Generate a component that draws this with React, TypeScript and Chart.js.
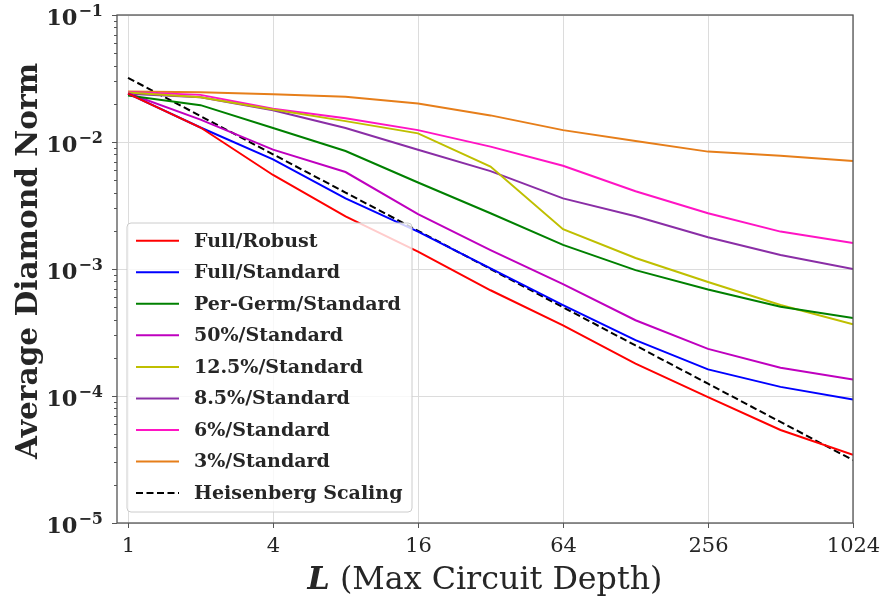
import React, { useEffect, useRef } from 'react';
import { Chart, registerables } from 'chart.js';

Chart.register(...registerables);

// ---------- data ----------
const depths = [1, 2, 4, 8, 16, 32, 64, 128, 256, 512, 1024];

const fullRobust = [0.024, 0.013, 0.0055, 0.0026, 0.00137, 0.00068, 0.00036, 0.00018, 0.000098, 0.000054, 0.0000345];
const fullStandard = [0.024, 0.013, 0.0073, 0.0036, 0.00197, 0.00101, 0.00052, 0.000275, 0.000162, 0.000118, 0.0000937];
const perGermStandard = [0.0232, 0.0195, 0.0129, 0.0085, 0.0048, 0.00275, 0.00155, 0.00098, 0.00069, 0.000504, 0.000412];
const pct50Standard = [0.0242, 0.015, 0.0087, 0.0058, 0.0027, 0.00141, 0.00076, 0.000395, 0.000235, 0.000167, 0.000135];
const pct12_5Standard = [0.0245, 0.0225, 0.018, 0.0146, 0.0117, 0.0064, 0.00206, 0.00122, 0.00079, 0.00052, 0.000367];
const pct8_5Standard = [0.024, 0.0225, 0.0178, 0.0129, 0.0087, 0.0059, 0.0036, 0.0026, 0.00178, 0.00129, 0.001];
const pct6Standard = [0.0248, 0.0235, 0.0183, 0.0154, 0.0124, 0.0092, 0.0065, 0.0041, 0.00275, 0.00197, 0.0016];
const pct3Standard = [0.025, 0.0247, 0.0238, 0.0227, 0.0201, 0.0162, 0.0124, 0.0102, 0.0084, 0.0078, 0.0071];
const heisenberg = [0.032, 0.016, 0.008, 0.004, 0.002, 0.001, 0.0005, 0.00025, 0.000125, 0.0000625, 0.00003125];

const seriesLabels = [
  'Full/Robust',
  'Full/Standard',
  'Per-Germ/Standard',
  '50%/Standard',
  '12.5%/Standard',
  '8.5%/Standard',
  '6%/Standard',
  '3%/Standard',
  'Heisenberg Scaling',
];
const seriesValues = [
  fullRobust,
  fullStandard,
  perGermStandard,
  pct50Standard,
  pct12_5Standard,
  pct8_5Standard,
  pct6Standard,
  pct3Standard,
  heisenberg,
];
const seriesColors = ['#ff0000', '#0000ff', '#008000', '#bf00bf', '#bfbf00', '#8a2ea6', '#ff14c4', '#e67e1a', '#000000'];

const xTickValues = [1, 4, 16, 64, 256, 1024];
const yTickExponents = [-1, -2, -3, -4, -5];
const xTitleItalic = 'L';
const xTitleRest = ' (Max Circuit Depth)';
const yTitle = 'Average Diamond Norm';

const FONT = '"DejaVu Serif", serif';

function fitSize(ctx: CanvasRenderingContext2D, weight: string, text: string, target: number) {
  ctx.font = `${weight} 20px ${FONT}`;
  const w = ctx.measureText(text).width;
  return (20 * target) / w;
}

const decorPlugin = {
  id: 'decor',
  afterDraw(chart: any) {
    const { ctx, chartArea } = chart;
    const { left, right, top, bottom } = chartArea;
    const xs = chart.scales.x;
    const ys = chart.scales.y;
    ctx.save();

    // frame
    ctx.strokeStyle = '#555555';
    ctx.lineWidth = 1.3;
    ctx.strokeRect(left, top, right - left, bottom - top);

    // y ticks (major + minor)
    ctx.lineWidth = 1;
    ctx.strokeStyle = '#555555';
    for (const e of yTickExponents) {
      const py = Math.round(ys.getPixelForValue(Math.pow(10, e))) + 0.5;
      ctx.beginPath();
      ctx.moveTo(left - 5, py);
      ctx.lineTo(left, py);
      ctx.stroke();
      if (e > -1 - 0.5) continue;
      for (let m = 2; m <= 9; m++) {
        const v = m * Math.pow(10, e);
        const pm = Math.round(ys.getPixelForValue(v)) + 0.5;
        ctx.beginPath();
        ctx.moveTo(left - 3, pm);
        ctx.lineTo(left, pm);
        ctx.stroke();
      }
    }

    // y labels
    ctx.fillStyle = '#262626';
    for (const e of yTickExponents) {
      const py = ys.getPixelForValue(Math.pow(10, e));
      ctx.textAlign = 'right';
      ctx.textBaseline = 'alphabetic';
      ctx.font = `bold 16px ${FONT}`;
      const expText = '\u2212' + String(-e);
      const ew = ctx.measureText(expText).width;
      ctx.fillText(expText, 103, py + 0.5);
      ctx.font = `bold 22.5px ${FONT}`;
      ctx.fillText('10', 103 - ew - 1, py + 9.5);
    }

    // x ticks and labels
    ctx.font = `21px ${FONT}`;
    ctx.textAlign = 'center';
    ctx.textBaseline = 'alphabetic';
    for (const v of xTickValues) {
      const px = Math.round(xs.getPixelForValue(v)) + 0.5;
      ctx.beginPath();
      ctx.moveTo(px, bottom);
      ctx.lineTo(px, bottom + 5);
      ctx.stroke();
      ctx.fillText(String(v), px, 552);
    }

    // x title
    const cx = (left + right) / 2;
    const s = 26;
    ctx.font = `italic bold ${s}px ${FONT}`;
    const lw = ctx.measureText(xTitleItalic).width;
    ctx.font = `${s}px ${FONT}`;
    const rw = ctx.measureText(xTitleRest).width;
    const s2 = (s * 355) / (lw + rw);
    ctx.font = `italic bold ${s2}px ${FONT}`;
    const lw2 = ctx.measureText(xTitleItalic).width;
    ctx.font = `${s2}px ${FONT}`;
    const rw2 = ctx.measureText(xTitleRest).width;
    const x0 = cx - (lw2 + rw2) / 2;
    ctx.textAlign = 'left';
    ctx.font = `italic bold ${s2}px ${FONT}`;
    ctx.fillText(xTitleItalic, x0, 589);
    ctx.font = `${s2}px ${FONT}`;
    ctx.fillText(xTitleRest, x0 + lw2, 589);

    // y title
    const ySize = fitSize(ctx, 'bold', yTitle, 396);
    ctx.save();
    ctx.translate(37, 261);
    ctx.rotate(-Math.PI / 2);
    ctx.font = `bold ${ySize}px ${FONT}`;
    ctx.textAlign = 'center';
    ctx.textBaseline = 'alphabetic';
    ctx.fillText(yTitle, 0, 0);
    ctx.restore();

    // legend
    const bx = 127, by = 223, bw = 285, bh = 289, r = 4;
    ctx.beginPath();
    ctx.moveTo(bx + r, by);
    ctx.lineTo(bx + bw - r, by);
    ctx.arcTo(bx + bw, by, bx + bw, by + r, r);
    ctx.lineTo(bx + bw, by + bh - r);
    ctx.arcTo(bx + bw, by + bh, bx + bw - r, by + bh, r);
    ctx.lineTo(bx + r, by + bh);
    ctx.arcTo(bx, by + bh, bx, by + bh - r, r);
    ctx.lineTo(bx, by + r);
    ctx.arcTo(bx, by, bx + r, by, r);
    ctx.closePath();
    ctx.fillStyle = 'rgba(255,255,255,0.8)';
    ctx.fill();
    ctx.strokeStyle = '#cccccc';
    ctx.lineWidth = 1;
    ctx.stroke();

    const legSize = fitSize(ctx, 'bold', 'Per-Germ/Standard', 207);
    chart.data.datasets.forEach((ds: any, i: number) => {
      const ry = 240.7 + i * 31.55;
      ctx.strokeStyle = ds.borderColor;
      ctx.lineWidth = 2;
      ctx.setLineDash(ds.borderDash || []);
      ctx.beginPath();
      ctx.moveTo(136, ry);
      ctx.lineTo(179, ry);
      ctx.stroke();
      ctx.setLineDash([]);
      ctx.fillStyle = '#262626';
      ctx.font = `bold ${legSize}px ${FONT}`;
      ctx.textAlign = 'left';
      ctx.textBaseline = 'middle';
      ctx.fillText(ds.label, 194, ry + 1);
    });

    ctx.restore();
  },
};

export default function App() {
  const canvasRef = useRef<HTMLCanvasElement | null>(null);

  useEffect(() => {
    const canvas = canvasRef.current;
    if (!canvas) return;
    const datasets = seriesLabels.map((label, i) => ({
      label,
      data: depths.map((d, j) => ({ x: d, y: seriesValues[i][j] })),
      borderColor: seriesColors[i],
      backgroundColor: seriesColors[i],
      borderWidth: 2,
      borderDash: label === 'Heisenberg Scaling' ? [7, 3.5] : [],
      pointRadius: 0,
      tension: 0,
      fill: false,
    }));
    const chart = new Chart(canvas, {
      type: 'line',
      data: { datasets },
      options: {
        animation: false,
        responsive: false,
        devicePixelRatio: 1,
        layout: { padding: { top: 15, right: 35, left: 0, bottom: 0 } },
        plugins: { legend: { display: false }, tooltip: { enabled: false } },
        scales: {
          x: {
            type: 'logarithmic',
            min: 0.9,
            max: 1024,
            afterBuildTicks: (s: any) => {
              s.ticks = xTickValues.map((v) => ({ value: v }));
            },
            afterFit: (s: any) => {
              s.height = 79;
            },
            ticks: { display: false },
            grid: { color: '#dcdcdc', lineWidth: 1, drawTicks: false },
            border: { display: false },
          },
          y: {
            type: 'logarithmic',
            min: 1e-5,
            max: 1e-1,
            afterBuildTicks: (s: any) => {
              s.ticks = yTickExponents.map((e) => ({ value: Math.pow(10, e) }));
            },
            afterFit: (s: any) => {
              s.width = 117;
            },
            ticks: { display: false },
            grid: { color: '#dcdcdc', lineWidth: 1, drawTicks: false },
            border: { display: false },
          },
        },
      } as any,
      plugins: [decorPlugin],
    });
    return () => chart.destroy();
  }, []);

  return (
    <div style={{ position: 'fixed', left: 0, top: 0, width: 888, height: 602, background: '#ffffff' }}>
      <canvas ref={canvasRef} width={888} height={602} style={{ width: 888, height: 602, display: 'block' }} />
    </div>
  );
}
